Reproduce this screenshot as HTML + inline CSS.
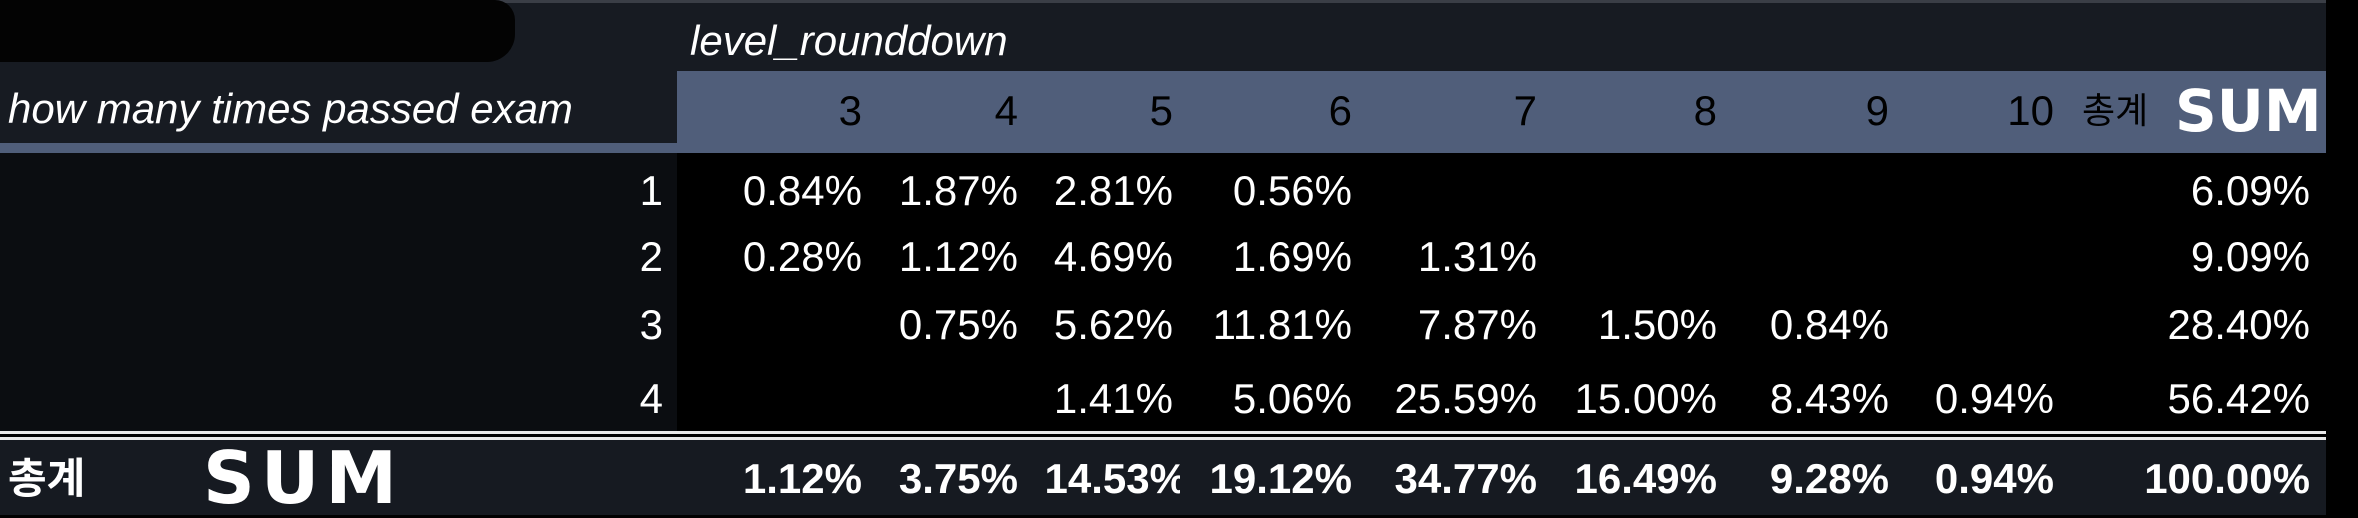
<!DOCTYPE html>
<html><head><meta charset="utf-8">
<style>
html,body{margin:0;padding:0;background:#000;}
#root{position:relative;width:2358px;height:518px;overflow:hidden;background:#000;font-family:"Liberation Sans","Noto Sans CJK KR",sans-serif;color:#fff;}
.abs{position:absolute;}
.t{position:absolute;font-size:42px;line-height:42px;white-space:nowrap;}
.r{text-align:right;}
</style></head>
<body>
<div id="root">
  <div class="abs" style="left:0;top:0;width:2326px;height:3px;background:#3a3e46"></div>
  <div class="abs" style="left:0;top:3px;width:2326px;height:68px;background:#171b22"></div>
  <div class="abs" style="left:0;top:0;width:515px;height:62px;background:#030303;border-radius:0 20px 28px 0"></div>
  <div class="t" style="left:690px;top:20px;font-style:italic;">level_rounddown</div>
  <div class="abs" style="left:677px;top:71px;width:1649px;height:82px;background:#505e7a"></div>
  <div class="abs" style="left:0;top:71px;width:677px;height:72px;background:#171b22"></div>
  <div class="abs" style="left:0;top:143px;width:677px;height:10px;background:#505e7a"></div>
  <div class="t" style="left:8px;top:88px;font-style:italic;">how many times passed exam</div>
  <div class="abs" style="left:0;top:153px;width:677px;height:278px;background:#0b0d11"></div>
  <div class="abs" style="left:0;top:431px;width:2326px;height:3px;background:#e8e8e8"></div>
  <div class="abs" style="left:0;top:437px;width:2326px;height:3px;background:#e8e8e8"></div>
  <div class="abs" style="left:0;top:440px;width:2326px;height:75px;background:#161a21"></div>
  <div class="t" style="left:8px;top:458px;font-weight:bold;">총계</div>
  <div class="t" style="left:203px;top:440px;font-family:'DejaVu Sans',sans-serif;font-weight:bold;font-size:72px;line-height:76px;letter-spacing:6px;">SUM</div>
  <div class="t" style="left:2082px;top:90px;color:#000;font-size:36px;">총계</div>
  <div class="t" style="left:2175px;top:78px;font-family:'DejaVu Sans',sans-serif;font-weight:bold;font-size:58px;line-height:66px;">SUM</div>
  <div id="cells"></div>
</div>
<script>
const columns = ["3","4","5","6","7","8","9","10"];
const rowLabels = ["1","2","3","4"];
const row1 = ["0.84%","1.87%","2.81%","0.56%","","","",""];
const row2 = ["0.28%","1.12%","4.69%","1.69%","1.31%","","",""];
const row3 = ["","0.75%","5.62%","11.81%","7.87%","1.50%","0.84%",""];
const row4 = ["","","1.41%","5.06%","25.59%","15.00%","8.43%","0.94%"];
const rowTotals = ["6.09%","9.09%","28.40%","56.42%"];
const colTotals = ["1.12%","3.75%","14.53%","19.12%","34.77%","16.49%","9.28%","0.94%"];
const grandTotal = "100.00%";

const rows = [row1,row2,row3,row4];
const colRight = [862,1018,1173,1352,1537,1717,1889,2054];
const totalRight = 2310;
const rowTop = [170,236,304,378];
const root = document.getElementById('cells');
function txt(text,right,top,extra){
  const d=document.createElement('div');
  d.className='t r';
  d.style.left=(right-400)+'px';d.style.width='400px';d.style.top=top+'px';
  if(extra) Object.assign(d.style,extra);
  d.textContent=text;root.appendChild(d);return d;
}
columns.forEach((c,i)=>{
  const el=txt(c,colRight[i],90,{color:'#000'});
  
  
});
rowLabels.forEach((r,ri)=>{
  const el=txt(r,663,rowTop[ri]);
  
  
  rows[ri].forEach((v,ci)=>{
    if(!v) return;
    const c=txt(v,colRight[ci],rowTop[ri]);
    
    
  });
  const t=txt(rowTotals[ri],totalRight,rowTop[ri]);
  
  
});
colTotals.forEach((v,ci)=>{
  const el=txt(v,colRight[ci],458,{fontWeight:'bold'});
  if(ci===2){ el.style.clipPath='inset(0 7px 0 0)'; el.style.left=(colRight[ci]-400+14)+'px'; }
  
  
});
const g=txt(grandTotal,totalRight,458,{fontWeight:'bold'});


</script>
</body></html>
